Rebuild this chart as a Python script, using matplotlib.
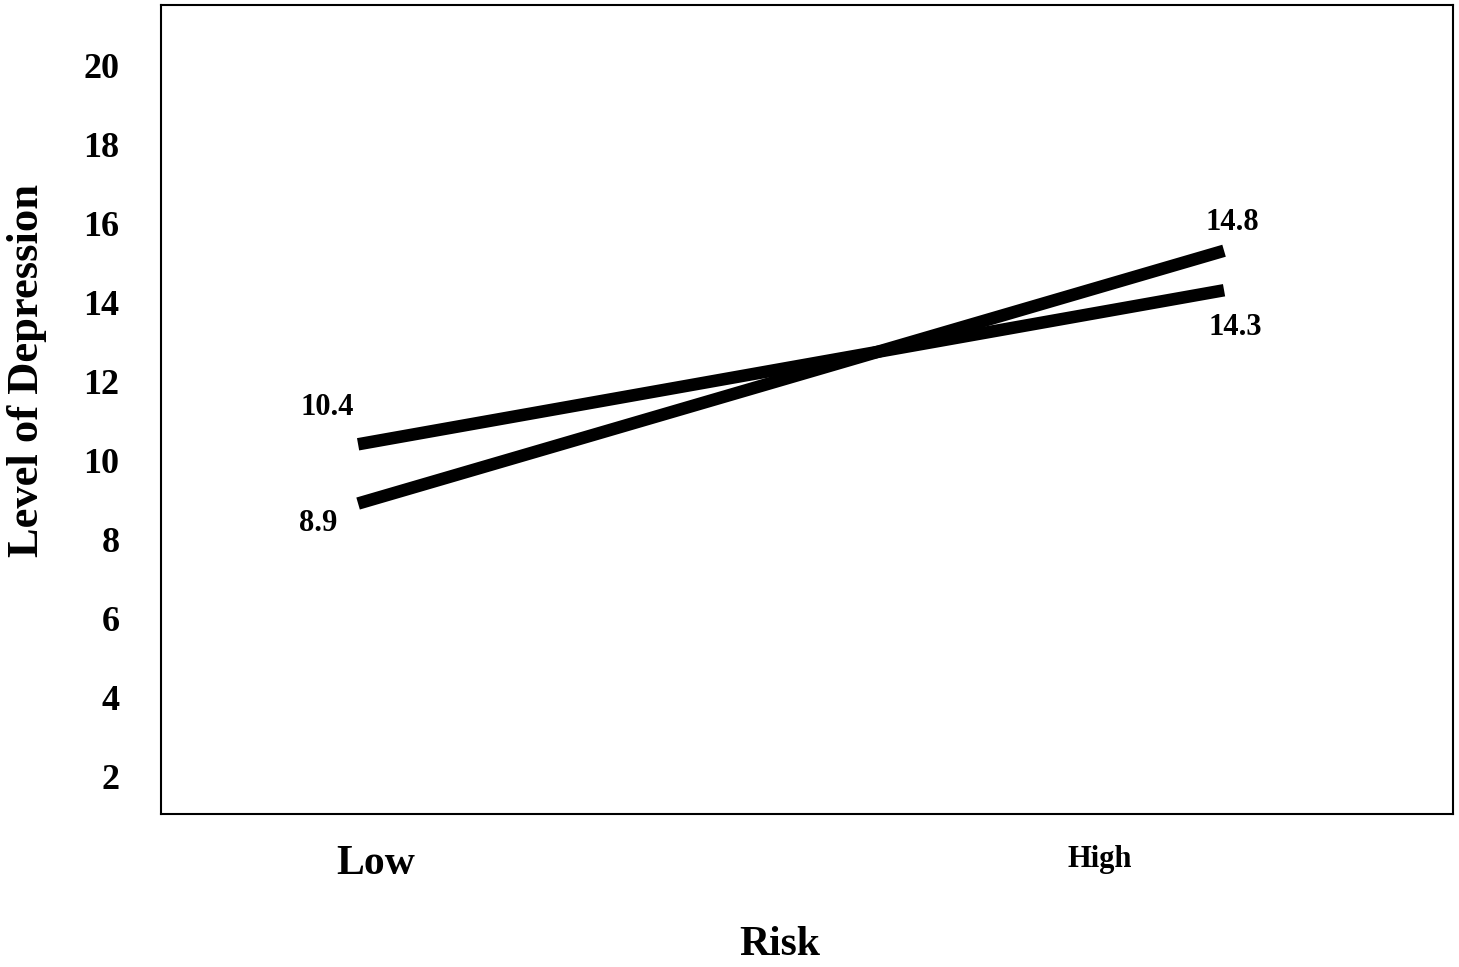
import matplotlib.pyplot as plt

plt.rcParams["font.family"] = ["Liberation Serif", "DejaVu Serif"]
plt.rcParams["font.weight"] = "bold"

risk_levels = ["Low", "High"]
series_a = [10.4, 14.3]
series_b = [8.9, 15.3]  # line end as drawn in the scan
labels_a = ["10.4", "14.3"]
labels_b = ["8.9", "14.8"]
y_ticks = [2, 4, 6, 8, 10, 12, 14, 16, 18, 20]


def main():
    fig = plt.figure(figsize=(14.59, 9.67), dpi=100)
    ax = fig.add_axes([0.1104, 0.1582, 0.8855, 0.8366])

    xs = [0, 1]
    ax.plot(xs, series_a, color="black", lw=9, solid_capstyle="butt")
    ax.plot(xs, series_b, color="black", lw=9, solid_capstyle="butt")

    # value labels at line ends
    ax.annotate(labels_a[0], (xs[0], series_a[0]), xytext=(-31, 37),
                textcoords="offset pixels", ha="center", va="center", fontsize=22)
    ax.annotate(labels_b[0], (xs[0], series_b[0]), xytext=(-40, -20),
                textcoords="offset pixels", ha="center", va="center", fontsize=22)
    ax.annotate(labels_b[1], (xs[1], series_b[1]), xytext=(8, 28),
                textcoords="offset pixels", ha="center", va="center", fontsize=22)
    ax.annotate(labels_a[1], (xs[1], series_a[1]), xytext=(11, -37),
                textcoords="offset pixels", ha="center", va="center", fontsize=22)

    ax.set_xlim(-0.2275, 1.2644)
    ax.set_ylim(1.04, 21.52)
    ax.set_yticks(y_ticks)
    ax.set_yticklabels([str(t) for t in y_ticks], fontsize=26)
    ax.set_xticks([0.02, 0.857])
    ax.set_xticklabels(risk_levels)
    lbls = ax.get_xticklabels()
    lbls[0].set_fontsize(30)
    lbls[1].set_fontsize(22)
    ax.tick_params(axis="y", length=0, pad=30)
    ax.tick_params(axis="x", length=0, pad=22)

    for s in ax.spines.values():
        s.set_linewidth(1.5)

    fig.text(780 / 1459, 1 - 945 / 967, "Risk", ha="center", va="center",
             fontsize=30)
    fig.text(27 / 1459, 1 - 370 / 967, "Level of Depression", ha="center",
             va="center", rotation=90, fontsize=32)

    fig.savefig("out.png", dpi=100)


if __name__ == "__main__":
    main()
